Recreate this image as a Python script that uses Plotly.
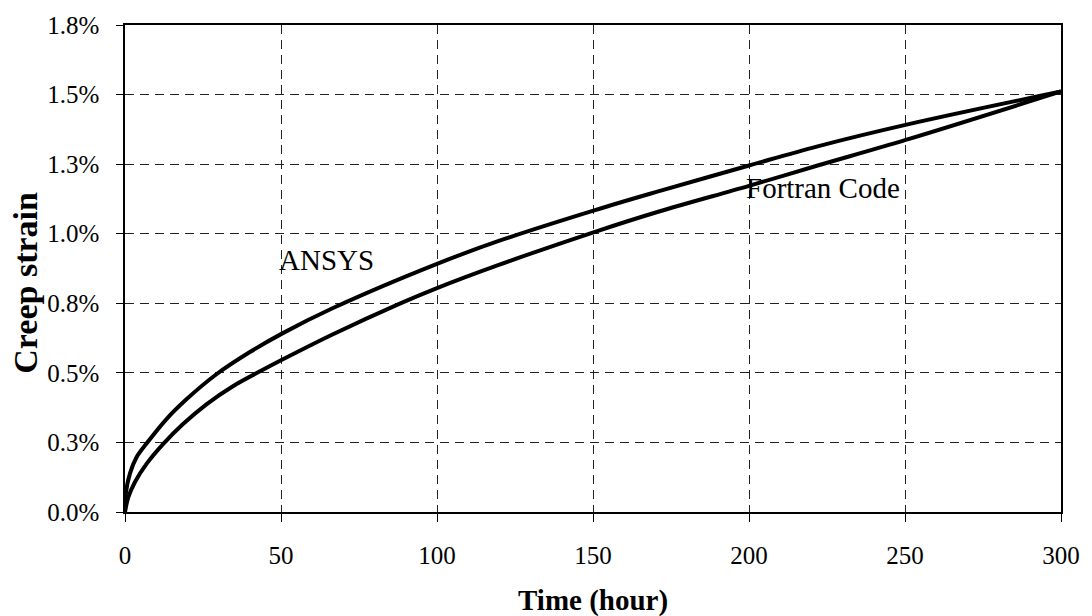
import plotly.graph_objects as go

# Data (time in hours, creep strain in %)
ansys_t = [0, 0.3, 1.6, 3.7, 6.9, 13.3, 19.7, 29.3, 39.9, 50.3, 66.5, 99.6, 119.8,
           150.4, 170.9, 200, 222, 250.5, 300]
ansys_v = [0, 0.07, 0.139, 0.197, 0.246, 0.334, 0.405, 0.495, 0.574, 0.641, 0.732, 0.890,
           0.974, 1.084, 1.152, 1.245, 1.314, 1.392, 1.511]

fortran_t = [0, 1.1, 3.2, 6.9, 12.2, 18.6, 26.1, 34.6, 44.2, 50.3, 66.5, 87.9, 99.6,
             119.8, 150.4, 170.9, 200, 222, 250.5, 300]
fortran_v = [0, 0.054, 0.108, 0.173, 0.244, 0.316, 0.387, 0.452, 0.511, 0.547, 0.638,
             0.748, 0.803, 0.888, 1.006, 1.079, 1.172, 1.245, 1.338, 1.511]

x_ticks = [0, 50, 100, 150, 200, 250, 300]
y_ticks = [0, 0.25, 0.5, 0.75, 1.0, 1.25, 1.5, 1.75]
y_tick_labels = ["0.0%", "0.3%", "0.5%", "0.8%", "1.0%", "1.3%", "1.5%", "1.8%"]

FONT = "Liberation Serif"

fig = go.Figure()
fig.add_trace(go.Scatter(x=ansys_t, y=ansys_v, mode="lines", name="ANSYS",
                         line=dict(color="black", width=4, shape="spline", smoothing=1.0)))
fig.add_trace(go.Scatter(x=fortran_t, y=fortran_v, mode="lines", name="Fortran Code",
                         line=dict(color="black", width=4, shape="spline", smoothing=1.0)))

fig.update_layout(
    width=1092, height=616,
    margin=dict(l=125, r=28, t=20, b=104),
    paper_bgcolor="white", plot_bgcolor="white",
    showlegend=False,
    font=dict(family=FONT, color="black", size=24),
)

fig.update_xaxes(
    range=[0, 300], tickvals=x_ticks, ticktext=[str(v) for v in x_ticks],
    showgrid=True, gridcolor="#222", gridwidth=1, griddash="9px,6px",
    showline=True, linecolor="black", linewidth=1.5, mirror=True,
    ticks="outside", ticklen=8, tickcolor="black", tickwidth=1,
    zeroline=False, tickfont=dict(family=FONT, size=25, color="black"), ticklabelstandoff=12,
)
fig.update_yaxes(
    range=[0, 1.75], tickvals=y_ticks, ticktext=y_tick_labels,
    showgrid=True, gridcolor="#222", gridwidth=1, griddash="9px,6px",
    showline=True, linecolor="black", linewidth=1.5, mirror=True,
    ticks="outside", ticklen=7, tickcolor="black", tickwidth=1,
    zeroline=False, tickfont=dict(family=FONT, size=25, color="black"), ticklabelstandoff=12,
)

fig.add_annotation(x=64.5, y=0.904, xref="x", yref="y", text="ANSYS", showarrow=False,
                   font=dict(family=FONT, size=29, color="black"))
fig.add_annotation(x=223.6, y=1.164, xref="x", yref="y", text="Fortran Code", showarrow=False,
                   font=dict(family=FONT, size=29, color="black"))

fig.add_annotation(x=0.5, y=-0.181, xref="paper", yref="paper", text="<b>Time (hour)</b>",
                   showarrow=False, xanchor="center", yanchor="middle",
                   font=dict(family=FONT, size=29, color="black"))
fig.add_annotation(x=-0.1065, y=0.4715, xref="paper", yref="paper", text="<b>Creep strain</b>",
                   showarrow=False, textangle=-90, xanchor="center", yanchor="middle",
                   font=dict(family=FONT, size=34, color="black"))

fig.write_html("out.html")
